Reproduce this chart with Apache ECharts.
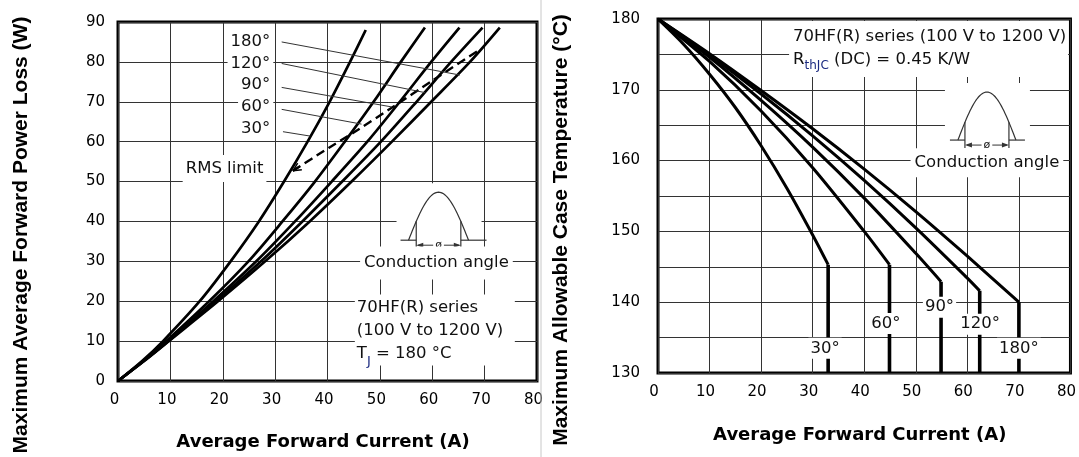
<!DOCTYPE html>
<html><head><meta charset="utf-8">
<script src="https://cdn.jsdelivr.net/npm/echarts@6/dist/echarts.min.js"></script>
<style>html,body{margin:0;padding:0;background:#fff}#c{width:1079px;height:457px}</style>
</head><body><div id="c"></div>
<script>
// ---------- data ----------
const currentTicks = [0,10,20,30,40,50,60,70,80];
const lossTicks = [0,10,20,30,40,50,60,70,80,90];
const tempTickLabels = [130,140,150,160,170,180];
const angleLabels = ['30°','60°','90°','120°','180°'];

// Left: [average forward current A, max power loss W]
const loss30  = [[0,0],[4.6,5],[8.6,10],[15.6,20],[21.5,30],[26.9,40],[31.7,50],[36.2,60],[40.4,70],[44.3,80],[47.3,88]];
const loss60  = [[0,0],[4.8,5],[9.2,10],[17.4,20],[24.9,30],[31.4,40],[37.6,50],[43.3,60],[48.8,70],[54.0,80],[58.6,88.6]];
const loss90  = [[0,0],[4.9,5],[9.5,10],[18.2,20],[26.4,30],[33.8,40],[40.8,50],[47.6,60],[53.8,70],[59.8,80],[65.2,88.6]];
const loss120 = [[0,0],[4.9,5],[9.6,10],[18.7,20],[27.3,30],[35.2,40],[42.8,50],[50.2,60],[57.0,70],[63.6,80],[69.6,88.6]];
const loss180 = [[0,0],[5.0,5],[9.7,10],[19.1,20],[28.1,30],[36.6,40],[44.6,50],[52.3,60],[59.8,70],[67.2,80],[72.9,88.6]];
const rmsLimit = [[33.4,52.7],[40.3,58.5],[45.0,62.3],[52.4,68.6],[60.0,75.3],[69.2,83.2]];

// Right: [average forward current A, max case temperature °C]; last two points = vertical drop
const temp30  = [[0,180],[5,176.4],[10,172.2],[15,167.5],[20,162.1],[25,156.1],[30,149.5],[33.0,145.3],[33.0,130]];
const temp60  = [[0,180],[10,174.0],[20,167.0],[30,159.0],[40,150.0],[44.9,145.3],[44.9,130]];
const temp90  = [[0,180],[10,174.6],[20,168.5],[30,161.9],[40,154.7],[50,146.9],[54.9,142.9],[54.9,130]];
const temp120 = [[0,180],[10,174.9],[20,169.4],[30,163.5],[40,157.2],[50,150.5],[60,143.4],[62.4,141.6],[62.4,130]];
const temp180 = [[0,180],[10,175.1],[20,169.9],[30,164.5],[40,158.8],[50,152.8],[60,146.5],[70,140.0],[70,130]];

// annotation anchors (data coordinates)
const lossLabelAnchors = [[29.65,85.1,'180°'],[29.65,79.6,'120°'],[29.65,74.2,'90°'],[29.65,68.8,'60°'],[29.65,63.3,'30°']];
const leaderStarts = [[31.25,85.0],[31.25,79.6],[31.25,73.6],[31.25,68.1],[31.5,62.5]];
const leaderEnds   = [[65.3,76.7],[58.6,72.3],[52.3,68.7],[46.5,64.4],[36.7,61.4]];
const tempLabelAnchors = [[32.4,133.5,'30°'],[44.2,137.0,'60°'],[54.6,139.3,'90°'],[62.5,136.9,'120°'],[70.0,133.5,'180°']];

const FONT = 'DejaVu Sans';
const chart = echarts.init(document.getElementById('c'));
const gridLine = {show:true, lineStyle:{color:'#333', width:1}};
const lblStyle = {fontFamily:FONT, fontSize:15, color:'#000'};
const nameStyle = {fontFamily:FONT, fontSize:18, fontWeight:'bold', color:'#000', padding:[0,9,0,0]};

function lossSeries(d){ return {type:'line', xAxisIndex:0, yAxisIndex:0, data:d, symbol:'none', smooth:0.3, silent:true, lineStyle:{color:'#000', width:2.7}}; }
function tempSlope(d){ return {type:'line', xAxisIndex:1, yAxisIndex:1, data:d.slice(0, d.length-1), symbol:'none', smooth:0.3, silent:true, lineStyle:{color:'#000', width:3}}; }
function tempDrop(d){ return {type:'line', xAxisIndex:1, yAxisIndex:1, data:d.slice(d.length-2), symbol:'none', silent:true, lineStyle:{color:'#000', width:3.6}}; }
const tempCurves = [temp30, temp60, temp90, temp120, temp180];

chart.setOption({
  animation:false,
  backgroundColor:'#fff',
  grid:[
    {left:118, top:22, width:419, height:359, show:true, borderColor:'#000', borderWidth:3},
    {left:658, top:19, width:415, height:354, show:true, borderColor:'#000', borderWidth:3}
  ],
  xAxis:[
    {gridIndex:0, type:'value', min:currentTicks[0], max:currentTicks[currentTicks.length-1], interval:10,
     axisLine:{show:false}, axisTick:{show:false}, splitLine:gridLine,
     axisLabel:Object.assign({margin:12, padding:[0,7,0,0]}, lblStyle),
     name:'Average Forward Current (A)', nameLocation:'middle', nameGap:52, nameTextStyle:nameStyle},
    {gridIndex:1, type:'value', min:currentTicks[0], max:currentTicks[currentTicks.length-1], interval:10,
     axisLine:{show:false}, axisTick:{show:false}, splitLine:gridLine,
     axisLabel:Object.assign({margin:12, padding:[0,8,0,0]}, lblStyle),
     name:'Average Forward Current (A)', nameLocation:'middle', nameGap:53, nameTextStyle:nameStyle}
  ],
  yAxis:[
    {gridIndex:0, type:'value', min:lossTicks[0], max:lossTicks[lossTicks.length-1], interval:10,
     axisLine:{show:false}, axisTick:{show:false}, splitLine:gridLine,
     axisLabel:Object.assign({margin:13}, lblStyle)},
    {gridIndex:1, type:'value', min:130, max:180, interval:5,
     axisLine:{show:false}, axisTick:{show:false}, splitLine:gridLine,
     axisLabel:Object.assign({margin:18, formatter:v => tempTickLabels.indexOf(v) >= 0 ? String(v) : ''}, lblStyle)}
  ],
  series:[
    lossSeries(loss30), lossSeries(loss60), lossSeries(loss90), lossSeries(loss120), lossSeries(loss180),
    {type:'line', xAxisIndex:0, yAxisIndex:0, data:rmsLimit, symbol:'none', smooth:0.2, silent:true,
     lineStyle:{color:'#000', width:2.4, type:[9,5]}}
  ].concat(tempCurves.map(tempSlope)).concat(tempCurves.map(tempDrop))
});

// ---------- annotations ----------
function P(g, a, b){ return chart.convertToPixel({gridIndex:g}, [a,b]); }
const els = [];
function txt(x, y, text, o){
  els.push({type:'text', x:x, y:y, z:100, silent:true,
    style:Object.assign({text:text, fill:'#111', fontFamily:FONT, fontSize:16.5, align:'left', verticalAlign:'middle'}, o||{})});
}
function seg(x1,y1,x2,y2,w,c,z){ els.push({type:'line', z:z||99, silent:true, shape:{x1:x1,y1:y1,x2:x2,y2:y2}, style:{stroke:c||'#333', lineWidth:w||1}}); }
function rect(x,y,w,h){ els.push({type:'rect', z:97, silent:true, shape:{x:x,y:y,width:w,height:h}, style:{fill:'#fff'}}); }

function icon(cx, by, half, h, cond, leftEnd, rightEnd){
  rect(cx-42, by-57, 85, 66);
  const pts = [];
  for (let i = 0; i <= 48; i++) { const t = i/48; pts.push([cx-half+2*half*t, by - h*Math.sin(Math.PI*t)]); }
  els.push({type:'polyline', z:100, silent:true, shape:{points:pts}, style:{stroke:'#333', lineWidth:1.2, fill:null}});
  seg(cx-leftEnd, by, cx-cond, by, 1.2);
  seg(cx+cond, by, cx+rightEnd, by, 1.2);
  const yv = h*Math.sin(Math.PI*(half-cond)/(2*half));
  seg(cx-cond, by+8, cx-cond, by-yv, 1.2);
  seg(cx+cond, by+8, cx+cond, by-yv, 1.2);
  const ay = by+5;
  seg(cx-cond+2, ay, cx+cond-2, ay, 1);
  els.push({type:'polygon', z:100, silent:true, shape:{points:[[cx-cond,ay],[cx-cond+7,ay-2.5],[cx-cond+7,ay+2.5]]}, style:{fill:'#333'}});
  els.push({type:'polygon', z:100, silent:true, shape:{points:[[cx+cond,ay],[cx+cond-7,ay-2.5],[cx+cond-7,ay+2.5]]}, style:{fill:'#333'}});
  txt(cx, ay, 'ø', {align:'center', fontSize:11, backgroundColor:'#fff', padding:[0,2]});
}

// Left chart labels and leaders
lossLabelAnchors.forEach(a => { const p = P(0, a[0], a[1]); txt(p[0], p[1], a[2], {align:'right', backgroundColor:'#fff', padding:[3,3]}); });
leaderStarts.forEach((s,i) => { const a = P(0, s[0], s[1]); const b = P(0, leaderEnds[i][0], leaderEnds[i][1]); seg(a[0],a[1],b[0],b[1],1,'#333',101); });
(function(){ // RMS arrowhead
  const p0 = P(0, rmsLimit[0][0], rmsLimit[0][1]); const p1 = P(0, rmsLimit[1][0], rmsLimit[1][1]);
  let dx = p1[0]-p0[0], dy = p1[1]-p0[1]; const L = Math.hypot(dx,dy); dx/=L; dy/=L;
  const ang = 0.45, len = 9;
  [ang,-ang].forEach(t => { const rx = dx*Math.cos(t)-dy*Math.sin(t), ry = dx*Math.sin(t)+dy*Math.cos(t);
    seg(p0[0], p0[1], p0[0]+rx*len, p0[1]+ry*len, 1.5, '#000', 101); });
  seg(p0[0], p0[1], p0[0]+dx*8, p0[1]+dy*8, 2, '#000', 101);
})();
let p = P(0, 12.35, 53.3); txt(p[0], p[1], 'RMS limit', {backgroundColor:'#fff', padding:[5,3]});
p = P(0, 61.2, 35.3); icon(p[0], p[1], 30, 48, 22.3, 38, 48);
p = P(0, 60.8, 29.6); txt(p[0], p[1], 'Conduction angle', {align:'center', backgroundColor:'#fff', padding:[8,4]});
p = P(0, 45.6, 18.4);
rect(p[0]-2, p[1]-13, 160, 71);
txt(p[0], p[1], '70HF(R) series');
p = P(0, 45.6, 12.5); txt(p[0], p[1], '(100 V to 1200 V)');
p = P(0, 45.6, 7.3);
txt(p[0], p[1]+2, '{m|T}{s|J}{m| = 180 °C}', {rich:{
  m:{fontFamily:FONT, fontSize:16.5, fill:'#111', lineHeight:18, verticalAlign:'top'},
  s:{fontFamily:FONT, fontSize:13, fill:'#1b2a80', lineHeight:11, padding:[10,0,0,0], verticalAlign:'top'}}});

// Right chart texts
p = P(1, 26.2, 177.5);
rect(p[0]-4, 21, 279, 56);
txt(p[0], p[1], '70HF(R) series (100 V to 1200 V)');
p = P(1, 26.2, 174.3);
txt(p[0], p[1]+1, '{m|R}{s|thJC}{m| (DC) = 0.45 K/W}', {rich:{
  m:{fontFamily:FONT, fontSize:16.5, fill:'#111', lineHeight:18, verticalAlign:'top'},
  s:{fontFamily:FONT, fontSize:12, fill:'#1b2a80', lineHeight:10, padding:[9,0,0,0], verticalAlign:'top'}}});
p = P(1, 63.8, 162.9); icon(p[0], p[1], 29, 48, 22, 37, 38);
p = P(1, 63.8, 159.7); txt(p[0], p[1], 'Conduction angle', {align:'center', backgroundColor:'#fff', padding:[6,4]});
tempLabelAnchors.forEach(a => { const q = P(1, a[0], a[1]); txt(q[0], q[1], a[2], {align:'center', backgroundColor:'#fff', padding:[2,2]}); });

// Rotated y-axis titles and separator
els.push({type:'text', x:21, y:235, rotation:Math.PI/2, z:100, silent:true,
  style:{text:'Maximum Average Forward Power Loss (W)', fill:'#000', fontFamily:'Liberation Sans', fontWeight:'bold', fontSize:21, align:'center', verticalAlign:'middle'}});
els.push({type:'text', x:561, y:230, rotation:Math.PI/2, z:100, silent:true,
  style:{text:'Maximum Allowable Case Temperature (°C)', fill:'#000', fontFamily:'Liberation Sans', fontWeight:'bold', fontSize:21, align:'center', verticalAlign:'middle'}});
seg(541, 0, 541, 457, 1, '#c8c8c8', 90);

chart.setOption({graphic:{elements:els}});
</script></body></html>
